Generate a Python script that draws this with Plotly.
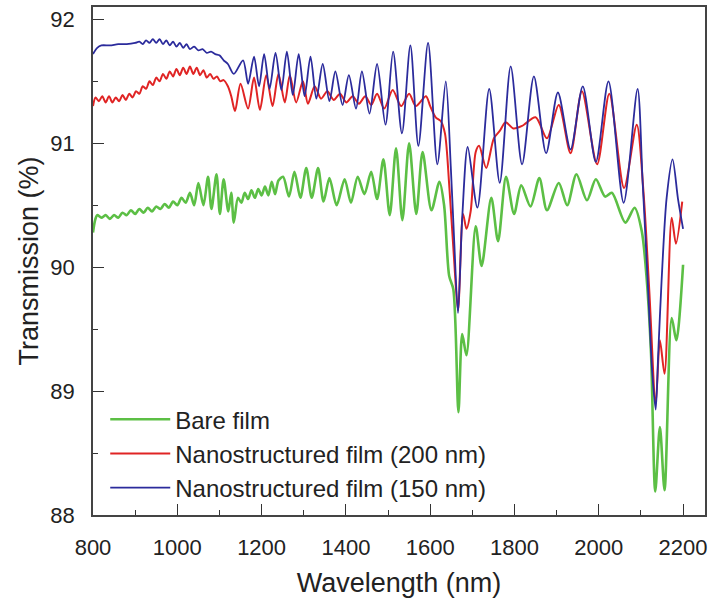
import plotly.graph_objects as go

# ---------------- data ----------------
bare_wl = [800, 805, 810, 820, 830, 840, 850, 860, 870, 880, 890, 900, 910, 920, 930, 940, 950, 960,
           970, 980, 990, 1000, 1010, 1020, 1030, 1040, 1050, 1062, 1073, 1081, 1093, 1101, 1110, 1121,
           1128, 1134, 1144, 1152, 1160, 1168, 1176, 1184, 1192, 1200, 1208, 1216, 1224, 1232, 1240,
           1251, 1265, 1278, 1292, 1306, 1319, 1334, 1347, 1361, 1378, 1397, 1412, 1428, 1444, 1460,
           1474, 1489, 1504, 1519, 1534, 1550, 1567, 1582, 1603, 1622, 1633, 1645, 1655, 1667, 1676,
           1686, 1708, 1722, 1745, 1761, 1780, 1799, 1816, 1838, 1859, 1877, 1905, 1925, 1947, 1972,
           1993, 2015, 2031, 2063, 2085, 2102, 2114, 2124, 2134, 2145, 2156, 2173, 2184, 2200]
bare_t = [90.28, 90.38, 90.42, 90.40, 90.42, 90.39, 90.42, 90.40, 90.44, 90.42, 90.46, 90.43, 90.47,
          90.44, 90.48, 90.45, 90.49, 90.47, 90.51, 90.48, 90.53, 90.50, 90.56, 90.52, 90.60, 90.50,
          90.68, 90.50, 90.73, 90.47, 90.75, 90.43, 90.71, 90.45, 90.60, 90.36, 90.56, 90.52, 90.60,
          90.55, 90.62, 90.56, 90.63, 90.58, 90.65, 90.58, 90.69, 90.59, 90.70, 90.73, 90.57, 90.77,
          90.56, 90.80, 90.56, 90.80, 90.53, 90.72, 90.50, 90.71, 90.52, 90.73, 90.59, 90.77, 90.55,
          90.87, 90.42, 90.96, 90.38, 91.00, 90.43, 90.93, 90.46, 90.69, 90.50, 89.93, 89.82, 88.83,
          89.46, 89.29, 90.33, 90.01, 90.56, 90.21, 90.73, 90.43, 90.66, 90.49, 90.72, 90.46, 90.68,
          90.50, 90.75, 90.54, 90.71, 90.57, 90.60, 90.36, 90.48, 90.29, 89.89, 89.30, 88.19, 88.71,
          88.20, 89.59, 89.41, 90.02]

n200_wl = [800, 806, 814, 822, 830, 838, 846, 854, 862, 870, 878, 886, 894, 902, 910, 918, 926, 934,
           942, 950, 958, 966, 974, 982, 990, 998, 1006, 1014, 1022, 1030, 1038, 1046, 1054, 1062,
           1070, 1078, 1086, 1094, 1102, 1110, 1120, 1128, 1137, 1150, 1168, 1182, 1196, 1211, 1226,
           1240, 1255, 1267, 1282, 1298, 1310, 1326, 1341, 1356, 1371, 1386, 1401, 1416, 1431, 1446,
           1460, 1474, 1491, 1511, 1531, 1550, 1566, 1590, 1600, 1613, 1625, 1635, 1645, 1656, 1666,
           1678, 1686, 1696, 1708, 1716, 1733, 1751, 1765, 1779, 1797, 1818, 1850, 1877, 1905, 1933,
           1960, 1996, 2025, 2060, 2090, 2106, 2120, 2135, 2145, 2156, 2173, 2183, 2198]
n200_t = [91.30, 91.37, 91.34, 91.38, 91.33, 91.38, 91.33, 91.37, 91.34, 91.39, 91.35, 91.40, 91.37,
          91.42, 91.40, 91.46, 91.44, 91.50, 91.47, 91.53, 91.50, 91.56, 91.52, 91.58, 91.54, 91.60,
          91.55, 91.61, 91.56, 91.62, 91.56, 91.61, 91.55, 91.59, 91.53, 91.56, 91.52, 91.54, 91.50,
          91.51, 91.46, 91.38, 91.26, 91.48, 91.28, 91.53, 91.27, 91.55, 91.30, 91.56, 91.33, 91.55,
          91.33, 91.50, 91.32, 91.46, 91.36, 91.42, 91.35, 91.40, 91.33, 91.38, 91.32, 91.38, 91.31,
          91.40, 91.28, 91.43, 91.30, 91.40, 91.30, 91.38, 91.30, 91.21, 91.18, 91.08, 90.67, 90.10,
          89.65, 90.43, 90.31, 90.45, 90.93, 90.98, 90.80, 91.04, 91.10, 91.17, 91.12, 91.14, 91.21,
          91.04, 91.31, 90.92, 91.42, 90.83, 91.40, 90.64, 91.15, 90.61, 89.80, 88.90, 89.41, 89.14,
          90.40, 90.19, 90.53]

n150_wl = [800, 810, 820, 840, 860, 880, 900, 910, 918, 926, 934, 942, 950, 958, 966, 974, 982, 990,
           998, 1006, 1014, 1022, 1030, 1040, 1050, 1060, 1070, 1080, 1090, 1100, 1110, 1120, 1134,
           1156, 1168, 1182, 1194, 1206, 1219, 1233, 1247, 1260, 1274, 1288, 1302, 1316, 1330, 1345,
           1361, 1375, 1392, 1407, 1424, 1438, 1456, 1474, 1494, 1512, 1533, 1553, 1572, 1595, 1617,
           1637, 1649, 1657, 1666, 1676, 1689, 1712, 1740, 1765, 1791, 1818, 1846, 1875, 1903, 1933,
           1962, 1993, 2023, 2059, 2092, 2104, 2116, 2127, 2135, 2141, 2149, 2161, 2175, 2188, 2200]
n150_t = [91.72, 91.77, 91.79, 91.79, 91.80, 91.80, 91.81, 91.82, 91.80, 91.83, 91.81, 91.84, 91.81,
          91.84, 91.80, 91.83, 91.79, 91.82, 91.78, 91.81, 91.77, 91.80, 91.76, 91.78, 91.75, 91.76,
          91.73, 91.74, 91.72, 91.71, 91.67, 91.64, 91.56, 91.67, 91.48, 91.70, 91.46, 91.72, 91.44,
          91.73, 91.43, 91.74, 91.39, 91.72, 91.38, 91.70, 91.36, 91.64, 91.34, 91.58, 91.31, 91.55,
          91.28, 91.58, 91.24, 91.64, 91.15, 91.74, 91.08, 91.79, 90.98, 91.81, 90.83, 91.50, 90.80,
          90.21, 89.63, 90.40, 90.97, 90.48, 91.44, 90.68, 91.62, 90.83, 91.54, 90.92, 91.41, 90.95,
          91.46, 90.85, 91.50, 90.52, 91.44, 90.69, 89.89, 89.14, 88.85, 89.30, 89.89, 90.56, 90.87,
          90.55, 90.31]

x_ticks = [800, 1000, 1200, 1400, 1600, 1800, 2000, 2200]
y_ticks = [88, 89, 90, 91, 92]

# ---------------- figure ----------------
FONT = "Liberation Sans, Arial, sans-serif"
fig = go.Figure()
fig.add_trace(go.Scatter(x=bare_wl, y=bare_t, mode="lines", name="Bare film",
                         line=dict(color="#5cbf45", width=2.6, shape="spline", smoothing=0.8)))
fig.add_trace(go.Scatter(x=n200_wl, y=n200_t, mode="lines", name="Nanostructured film (200 nm)",
                         line=dict(color="#e02424", width=2.0, shape="spline", smoothing=0.8)))
fig.add_trace(go.Scatter(x=n150_wl, y=n150_t, mode="lines", name="Nanostructured film (150 nm)",
                         line=dict(color="#2b2b9c", width=1.8, shape="spline", smoothing=0.8)))

axis_common = dict(showgrid=False, zeroline=False, showline=True, linecolor="#444", linewidth=1.5,
                   mirror=True, ticks="inside", tickcolor="#333", tickwidth=1.3, ticklen=11,
                   tickfont=dict(family=FONT, size=22, color="#222"))
fig.update_xaxes(range=[800, 2252], tickvals=x_ticks, ticktext=[str(v) for v in x_ticks],
                 minor=dict(dtick=100, tick0=800, ticks="inside", ticklen=5, tickcolor="#333", tickwidth=1.3),
                 ticklabelstandoff=12,
                 title=dict(text="Wavelength (nm)", font=dict(family=FONT, size=27, color="#222"), standoff=14),
                 **axis_common)
fig.update_yaxes(range=[88, 92.1], tickvals=y_ticks, ticktext=[str(v) for v in y_ticks],
                 minor=dict(dtick=0.5, tick0=88, ticks="inside", ticklen=5, tickcolor="#333", tickwidth=1.3),
                 ticklabelstandoff=12,
                 title=dict(text="Transmission (%)", font=dict(family=FONT, size=27, color="#222"), standoff=4),
                 **axis_common)

fig.update_layout(
    width=714, height=607,
    margin=dict(l=93, r=9, t=5, b=92),
    paper_bgcolor="white", plot_bgcolor="white",
    legend=dict(x=0.02, y=0.232, xanchor="left", yanchor="top", bgcolor="rgba(0,0,0,0)",
                font=dict(family=FONT, size=24, color="#222"), itemwidth=60, tracegroupgap=0),
    showlegend=True,
)

fig.write_html("out.html")
